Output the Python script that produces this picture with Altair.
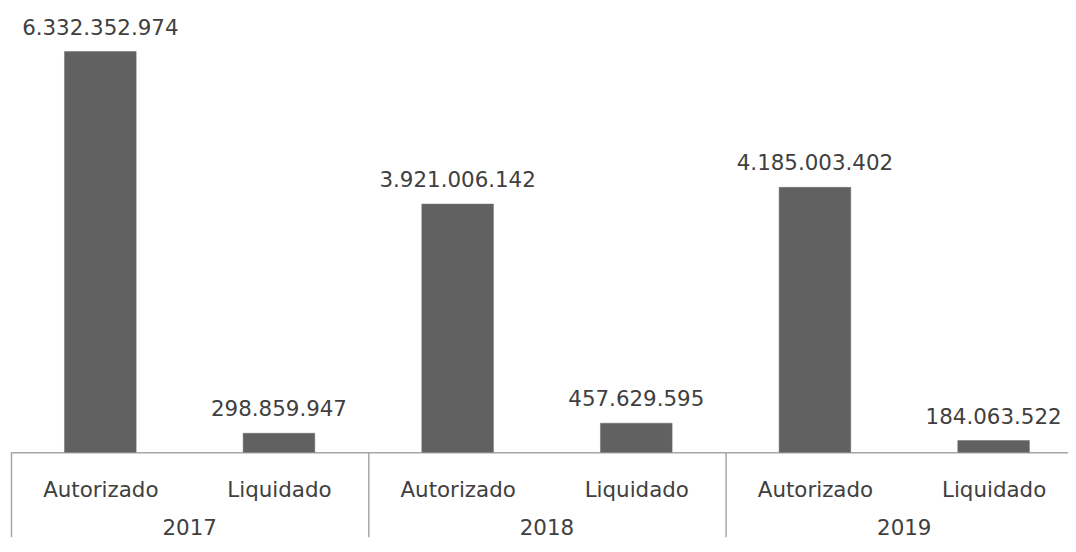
import altair as alt
import pandas as pd

years = ["2017", "2018", "2019"]
categories = ["Autorizado", "Liquidado"]
autorizado = [6332352974, 3921006142, 4185003402]
liquidado = [298859947, 457629595, 184063522]

rows = []
for gi, yr in enumerate(years):
    for ci, (cat, vals) in enumerate(zip(categories, [autorizado, liquidado])):
        v = vals[gi]
        rows.append({
            "year": yr,
            "category": cat,
            "value": v,
            "pos": gi * len(categories) + ci + 0.5,
            "label": f"{v:,}".replace(",", "."),
        })
df = pd.DataFrame(rows)
year_df = pd.DataFrame({"year": years, "pos": [i * 2 + 1 for i in range(len(years))], "value": [0] * len(years)})

FONT = "DejaVu Sans"
TXT = "#404040"
FS = 21.5
W = 1062
SLOT = 179.5
xmax = W / SLOT

label_expr = "datum.value % 2 == 0 ? '" + categories[0] + "' : '" + categories[1] + "'"

x_scale = alt.Scale(domain=[0, xmax], nice=False, zero=False, padding=0)
y_scale = alt.Scale(domain=[0, 7e9], nice=False)

x_axis = alt.Axis(
    values=[0, 1, 2, 3, 4, 5],
    title=None,
    grid=False,
    domain=True,
    domainColor="#a6a6a6",
    domainWidth=1.5,
    ticks=True,
    tickSize=85,
    tickColor="#a6a6a6",
    tickWidth=1.5,
    tickOpacity={"condition": {"test": "datum.value % 2 == 0", "value": 1}, "value": 0},
    labelExpr=label_expr,
    labelOffset=SLOT / 2,
    labelPadding=-57,
    labelFlush=False,
    labelOverlap=False,
    labelFont=FONT,
    labelFontSize=FS,
    labelColor=TXT,
    labelBaseline="top",
)

bars = alt.Chart(df).mark_bar(size=72, color="#616161", stroke="#6e6e6e", strokeWidth=0.5).encode(
    x=alt.X("pos:Q", scale=x_scale, axis=x_axis),
    y=alt.Y("value:Q", scale=y_scale, axis=None),
)

labels = alt.Chart(df).mark_text(
    font=FONT, fontSize=FS, color=TXT, baseline="alphabetic", dy=-17
).encode(
    x=alt.X("pos:Q", scale=x_scale),
    y=alt.Y("value:Q", scale=y_scale),
    text="label:N",
)

year_labels = alt.Chart(year_df).mark_text(
    font=FONT, fontSize=FS, color=TXT, baseline="middle", dy=77
).encode(
    x=alt.X("pos:Q", scale=x_scale),
    y=alt.Y("value:Q", scale=y_scale),
    text="year:N",
)

chart = alt.layer(bars, labels, year_labels).properties(
    width=W,
    height=445,
    background="white",
    padding={"left": 2, "top": 0, "right": 0, "bottom": 0},
).configure_view(strokeWidth=0, stroke=None)

chart.save("out.html", embed_options={"renderer": "svg", "actions": False})
